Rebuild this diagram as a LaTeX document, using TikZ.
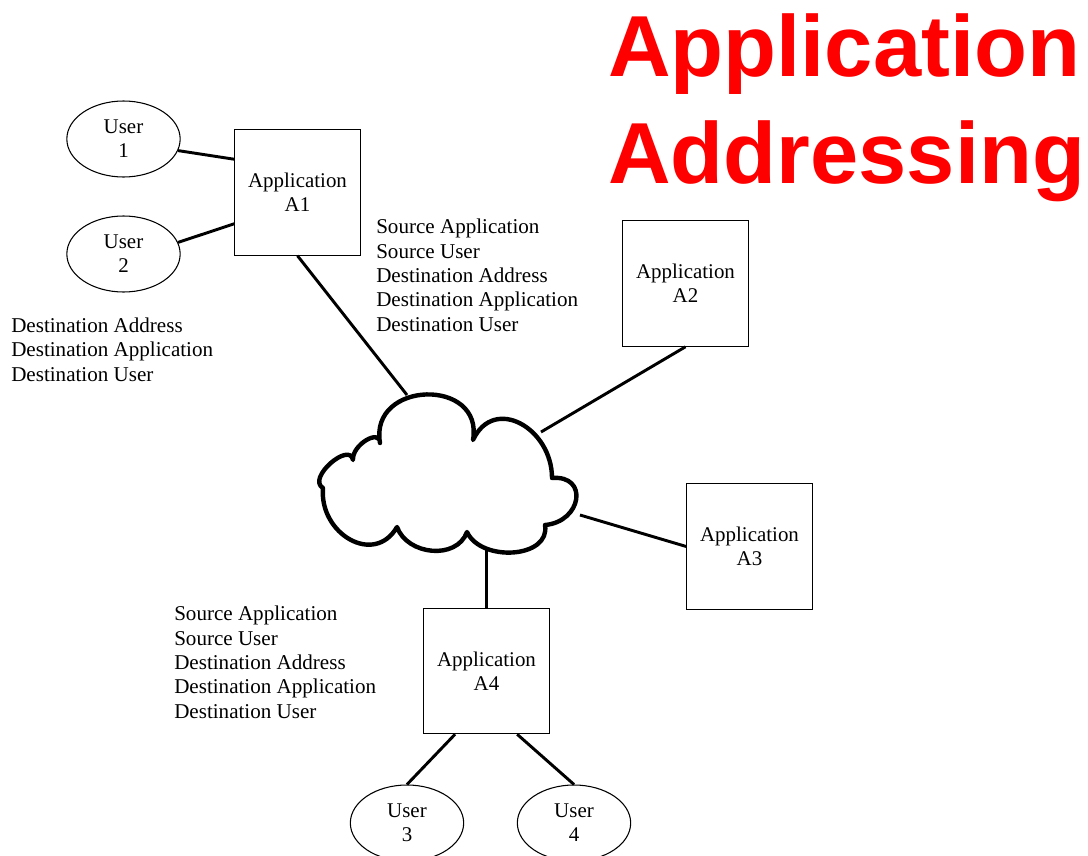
\documentclass[tikz,border=0pt]{standalone}
\usepackage{fontspec}
\setmainfont{Liberation Serif}
\newfontfamily\titlefont{Liberation Sans}
\usetikzlibrary{shapes.geometric}
\begin{document}
\begin{tikzpicture}[x=0.75pt,y=0.75pt,
  userell/.style={draw, line width=0.8pt, ellipse, minimum width=85pt, minimum height=57pt, inner sep=0pt, align=center, font=\fontsize{15.7}{18}\selectfont},
  appbox/.style={draw, line width=0.9pt, minimum width=94pt, minimum height=94pt, inner sep=0pt, align=center, font=\fontsize{15.7}{18}\selectfont},
  infotext/.style={anchor=base west, inner sep=0pt, align=left, font=\fontsize{15.8}{18.2}\selectfont},
  link/.style={line width=2.2pt},
  cloudline/.style={line width=3.3pt, line join=round}
]
\useasboundingbox (0,0) rectangle (1088,-856);

% title
\node[anchor=base west, inner sep=0pt, align=left, text=red, font=\titlefont\bfseries\fontsize{65}{80}\selectfont] (title) at (608,-183) {Application\\Addressing};

% users
\node[userell] (u1) at (123.5,-139) {User\\1};
\node[userell] (u2) at (123.5,-254) {User\\2};
\node[userell] (u3) at (407,-823) {User\\3};
\node[userell] (u4) at (574,-823) {User\\4};

% applications
\node[appbox] (a1) at (297.5,-192.5) {Application\\A1};
\node[appbox] (a2) at (685.5,-283.5) {Application\\A2};
\node[appbox] (a3) at (749.5,-546.5) {Application\\A3};
\node[appbox] (a4) at (486.5,-671) {Application\\A4};

% cloud
\draw[cloudline]
  (353,-460) to[out=95,in=90,looseness=1.2] (380,-443)
  to[out=100,in=80,looseness=1.75] (473,-440)
  to[out=65,in=90,looseness=1.45] (552,-478)
  to[out=5,in=5,looseness=2.0] (545,-525)
  to[out=-80,in=-65,looseness=1.1] (467,-532)
  to[out=-110,in=-70,looseness=1.1] (397,-527)
  to[out=-120,in=-95,looseness=1.4] (323,-488)
  to[out=150,in=100,looseness=1.2] cycle;
\coordinate (c1) at (407,-395);
\coordinate (c2) at (541,-432);
\coordinate (c3) at (580,-515);
\coordinate (c4) at (486.5,-548);

% connectors
\draw[link] (u1.-12) -- ([yshift=-22.5pt]a1.north west);
\draw[link] (u2.12) -- ([yshift=24pt]a1.south west);
\draw[link] (a1.south) -- (c1);
\draw[link] (a2.south) -- (c2);
\draw[link] (a3.west) -- (c3);
\draw[link] (a4.north) -- (c4);
\draw[link] ([xshift=-23.6pt]a4.south) -- (u3.north);
\draw[link] ([xshift=23pt]a4.south) -- (u4.north);

% texts
\node[infotext] (t1) at (376,-331) {Source Application\\Source User\\Destination Address\\Destination Application\\Destination User};
\node[infotext] (t2) at (11,-381) {Destination Address\\Destination Application\\Destination User};
\node[infotext] (t3) at (174,-718) {Source Application\\Source User\\Destination Address\\Destination Application\\Destination User};
\end{tikzpicture}
\end{document}
